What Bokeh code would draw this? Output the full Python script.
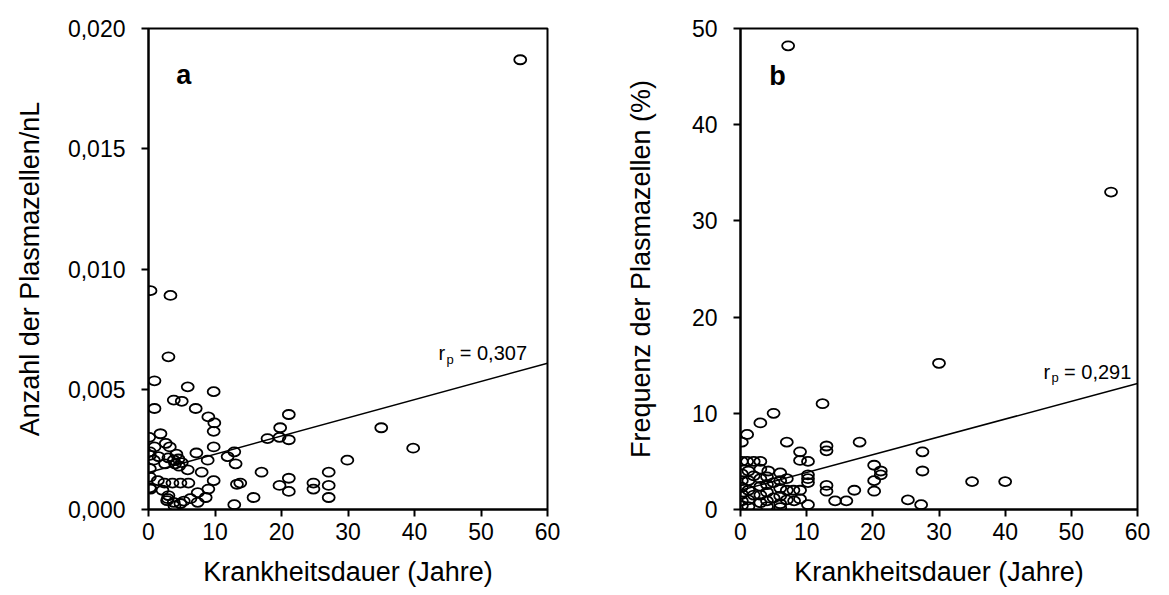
from bokeh.plotting import figure
from bokeh.models import Label, FixedTicker, CustomJSTickFormatter, Range1d, ColumnDataSource
from bokeh.layouts import row
from bokeh.embed import file_html
from bokeh.resources import INLINE

# ---------------- data ----------------
# Panel a: Krankheitsdauer (Jahre) vs. Anzahl der Plasmazellen/nL
dur_a = [55.9, 0.3, 3.3, 3.0, 0.9, 5.9, 9.8, 0.9, 3.8, 5.0, 7.1, 9.0, 9.9, 9.8, 1.8,
         0.1, 0.2, 0.9, 3.2, 9.8, 7.2, 8.9, 11.9, 12.9, 13.1, 3.8, 4.5, 3.0, 5.0, 0.2,
         0.8, 0.2, 9.8, 8.0, 5.9, 13.8, 17.0, 0.2, 0.2, 1.4, 2.4, 3.6, 4.8, 6.0, 0.3,
         2.1, 9.0, 7.4, 15.8, 2.9, 3.8, 5.3, 6.3, 7.4, 8.6, 12.9, 3.9, 4.8, 21.1, 19.8,
         17.9, 19.7, 21.1, 35.0, 39.8, 29.9, 19.7, 21.1, 21.1, 24.8, 24.8, 27.1, 27.1, 27.1,
         2.5, 4.2, 1.5, 2.6, 13.3, 2.8, 3.0, 4.0, 4.6]
count_a = [0.0187, 0.0091, 0.0089, 0.00635, 0.00535, 0.0051, 0.0049, 0.0042, 0.00455, 0.0045,
           0.0042, 0.00385, 0.0036, 0.00325, 0.00315, 0.0030, 0.0024, 0.0026, 0.0026, 0.0026,
           0.00235, 0.00205, 0.0022, 0.0024, 0.0019, 0.00205, 0.0021, 0.00215, 0.00195, 0.00225,
           0.00205, 0.0017, 0.0012, 0.00155, 0.00165, 0.0011, 0.00155, 0.00135, 0.0009, 0.0012,
           0.0011, 0.0011, 0.0011, 0.0011, 0.00085, 0.0008, 0.00085, 0.0007, 0.0005, 0.00045,
           0.0003, 0.00035, 0.00045, 0.0003, 0.0005, 0.0002, 0.00015, 0.00025, 0.00395, 0.0034,
           0.00295, 0.0030, 0.0029, 0.0034, 0.00255, 0.00205, 0.0010, 0.0013, 0.00075, 0.0011,
           0.00085, 0.00155, 0.0010, 0.0005,
           0.0019, 0.0023, 0.0022, 0.00275, 0.00105, 0.00037, 0.00058, 0.0019, 0.0018]
fit_x = [0, 60]
fit_a = [0.00154, 0.00608]

# Panel b: Krankheitsdauer (Jahre) vs. Frequenz der Plasmazellen (%)
dur_b = [56.0, 7.2, 30.0, 12.4, 5.0, 3.0, 1.0, 0.2, 7.0, 18.0, 13.0, 13.0, 9.0, 9.0, 10.2,
         0.2, 1.0, 2.0, 3.0, 4.2, 6.0, 0.2, 0.2, 0.2, 0.2, 0.2, 0.2, 27.5, 27.5, 20.2,
         21.2, 21.2, 20.2, 20.2, 17.2, 16.0, 14.3, 13.0, 25.3, 27.3, 35.0, 40.0, 7.0, 8.0, 9.0,
         9.0, 10.2, 8.1, 10.2, 10.2,
         1.2, 1.2, 1.2, 1.2, 1.2, 3.0, 3.0, 3.0, 3.0, 3.0, 4.0, 4.0, 4.0, 4.0, 4.0,
         6.0, 6.0, 6.0, 6.0, 6.0, 5.0, 5.0, 2.0, 2.0, 7.0, 7.0, 13.0, 10.2]
freq_b = [33.0, 48.2, 15.2, 11.0, 10.0, 9.0, 7.8, 7.0, 7.0, 7.0, 6.6, 6.1, 6.0, 5.1, 5.0,
          5.0, 5.0, 5.0, 5.0, 4.0, 3.8, 3.7, 3.0, 2.3, 1.6, 0.9, 0.4, 6.0, 4.0, 4.6,
          4.0, 3.6, 3.0, 1.9, 2.0, 0.9, 0.9, 1.9, 1.0, 0.5, 2.9, 2.9, 2.0, 2.0, 2.0,
          1.1, 0.5, 0.9, 2.8, 3.2,
          4.0, 3.0, 2.0, 1.0, 0.3, 4.2, 3.2, 2.4, 1.5, 0.7, 3.4, 2.6, 1.8, 0.9, 0.3,
          3.0, 2.2, 1.4, 0.6, 0.2, 2.8, 1.2, 3.5, 1.5, 3.2, 1.0, 2.5, 3.6]
fit_b = [2.0, 13.1]

x_ticks = [0, 10, 20, 30, 40, 50, 60]
y_ticks_a = [0.0, 0.005, 0.010, 0.015, 0.020]
y_ticks_b = [0, 10, 20, 30, 40, 50]

FONT = "Liberation Sans"


def make_fig(width, left, right, yr, yticks, ylabel, ylabel_standoff):
    p = figure(width=width, height=594, x_range=Range1d(0, 60), y_range=Range1d(*yr),
               output_backend="svg", toolbar_location=None,
               min_border_left=left, min_border_right=right,
               min_border_top=28, min_border_bottom=85)
    p.xgrid.visible = False
    p.ygrid.visible = False
    p.outline_line_color = "black"
    p.outline_line_width = 2
    p.outline_line_alpha = 1.0
    for ax in (p.xaxis[0], p.yaxis[0]):
        ax.axis_line_width = 2
        ax.axis_line_color = "black"
        ax.major_tick_line_width = 2
        ax.major_tick_line_color = "black"
        ax.major_tick_out = 7
        ax.major_tick_in = 0
        ax.minor_tick_out = 0
        ax.minor_tick_in = 0
        ax.major_label_text_font = FONT
        ax.major_label_text_font_size = "23px"
        ax.major_label_text_color = "black"
        ax.axis_label_text_font = FONT
        ax.axis_label_text_font_size = "27px"
        ax.axis_label_text_font_style = "normal"
        ax.axis_label_text_color = "black"
    p.xaxis[0].ticker = FixedTicker(ticks=x_ticks)
    p.yaxis[0].ticker = FixedTicker(ticks=yticks)
    p.xaxis[0].axis_label = "Krankheitsdauer (Jahre)"
    p.yaxis[0].axis_label = ylabel
    p.xaxis[0].major_label_standoff = 6
    p.xaxis[0].axis_label_standoff = 14
    p.yaxis[0].major_label_standoff = 16
    p.yaxis[0].axis_label_standoff = ylabel_standoff
    return p


def add_text(p, x, y, text, size, bold=False, align="left", baseline="alphabetic"):
    p.add_layout(Label(x=x, y=y, text=text, text_font=FONT, text_font_size=size,
                       text_font_style="bold" if bold else "normal", text_color="black",
                       text_align=align, text_baseline=baseline))


# ---------------- panel a ----------------
pa = make_fig(590, 148, 43, (0, 0.020), y_ticks_a, "Anzahl der Plasmazellen/nL", 20)
pa.yaxis[0].formatter = CustomJSTickFormatter(code="return tick.toFixed(3).replace('.', ',');")
pa.line(fit_x, fit_a, line_color="black", line_width=1.5)
pa.ellipse(x="x", y="y", width=12, height=9, width_units="screen", height_units="screen",
           source=ColumnDataSource(dict(x=dur_a, y=count_a)),
           fill_color=None, line_color="black", line_width=1.8)
add_text(pa, 5.3, 0.01805, "a", "27px", bold=True, align="center", baseline="middle")
add_text(pa, 43.6, 0.00649, "r", "20px")
add_text(pa, 44.8, 0.00625, "p", "13px")
add_text(pa, 46.8, 0.00649, "= 0,307", "20px")

# ---------------- panel b ----------------
pb = make_fig(563, 150, 16, (0, 50), y_ticks_b, "Frequenz der Plasmazellen (%)", 33)
pb.line(fit_x, fit_b, line_color="black", line_width=1.5)
pb.ellipse(x="x", y="y", width=12, height=9, width_units="screen", height_units="screen",
           source=ColumnDataSource(dict(x=dur_b, y=freq_b)),
           fill_color=None, line_color="black", line_width=1.8)
add_text(pb, 5.6, 45.1, "b", "27px", bold=True, align="center", baseline="middle")
add_text(pb, 45.8, 14.25, "r", "20px")
add_text(pb, 47.0, 13.7, "p", "13px")
add_text(pb, 48.9, 14.25, "= 0,291", "20px")

layout = row(pa, pb)
open("out.html", "w").write(file_html(layout, INLINE))
